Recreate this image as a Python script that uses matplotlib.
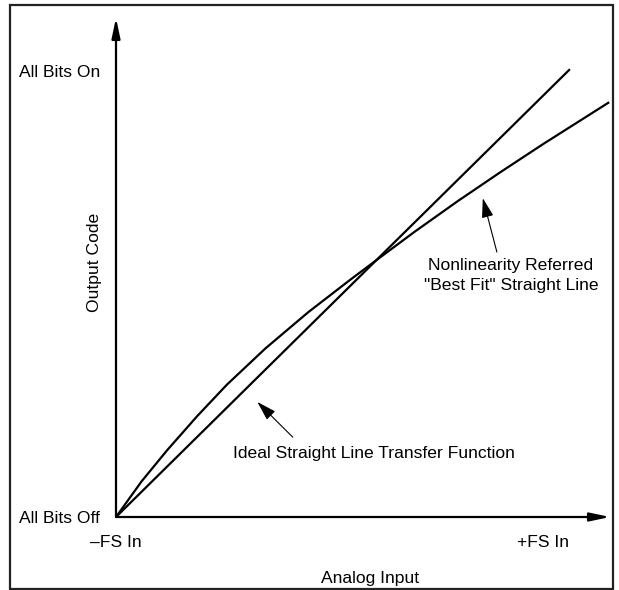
import matplotlib
matplotlib.use('Agg')
import matplotlib.pyplot as plt
from matplotlib.patches import Rectangle

plt.rcParams['font.family'] = ['Liberation Sans', 'DejaVu Sans']

# x: -FS In = 0, +FS In = 1 ; y: All Bits Off = 0, All Bits On = 1
ideal_x = [0.0, 1.063]
ideal_y = [0.0, 1.004]
curve_x = [0.0, 0.06, 0.12, 0.19, 0.26, 0.35, 0.45, 0.55, 0.61, 0.70, 0.80,
           0.90, 1.00, 1.155]
curve_y = [0.0, 0.080, 0.150, 0.226, 0.297, 0.378, 0.459, 0.533, 0.576, 0.640,
           0.708, 0.773, 0.836, 0.930]

x_ticks = [0, 1]
x_labels = ['\u2013FS In', '+FS In']
y_ticks = [0, 1]
y_labels = ['All Bits Off', 'All Bits On']

FS = 12.6
W, H = 619, 590
fig = plt.figure(figsize=(W / 100, H / 100), dpi=100)

# origin of the diagram sits at pixel (116, 517)
ax = fig.add_axes([116 / W, 1 - 517 / H, (W - 116) / W, 517 / H])
ax.set_xlim(0, (W - 116) / 427)
ax.set_ylim(0, 517 / 446)
for s in ax.spines.values():
    s.set_visible(False)

ax.set_xticks(x_ticks, x_labels)
ax.set_yticks(y_ticks, y_labels)
ax.tick_params(axis='x', length=0, pad=13, labelsize=FS)
ax.tick_params(axis='y', length=0, pad=11.5, labelsize=FS)

ax.set_xlabel('Analog Input', fontsize=FS)
ax.xaxis.set_label_coords(0.505, -0.104)
ax.set_ylabel('Output Code', fontsize=FS)
ax.yaxis.set_label_coords(-0.028, 0.493)

# axes with arrow heads
axis_arrow = dict(arrowstyle='-|>,head_length=0.8,head_width=0.17', lw=1.6,
                  color='black', shrinkA=0, shrinkB=0, mutation_scale=15)
ax.annotate('', xy=(0, 1.119), xytext=(0, 0), arrowprops=axis_arrow)
ax.annotate('', xy=(1.157, 0), xytext=(0, 0), arrowprops=axis_arrow)

ax.plot(ideal_x, ideal_y, color='black', lw=1.6, solid_capstyle='butt')
ax.plot(curve_x, curve_y, color='black', lw=1.6, solid_capstyle='butt',
        solid_joinstyle='round')

note_arrow = dict(arrowstyle='-|>,head_length=1.0,head_width=0.3', lw=0.8,
                  color='black', shrinkA=0, shrinkB=0, mutation_scale=12)
ax.annotate('', xy=(0.331, 0.258), xytext=(0.414, 0.179), arrowprops=note_arrow)
ax.annotate('', xy=(0.859, 0.715), xytext=(0.892, 0.594), arrowprops=note_arrow)

ax.text(0.604, 0.143, 'Ideal Straight Line Transfer Function', fontsize=FS,
        ha='center', va='center')
ax.text(0.925, 0.542, 'Nonlinearity Referred\n"Best Fit" Straight Line',
        fontsize=FS, ha='center', va='center', linespacing=1.45)

fig.patches.append(Rectangle((10 / W, 1 - 589 / H), 603 / W, 584 / H,
                             transform=fig.transFigure, fill=False,
                             lw=1.6, ec='#222222'))

fig.savefig('out.png', dpi=100)
